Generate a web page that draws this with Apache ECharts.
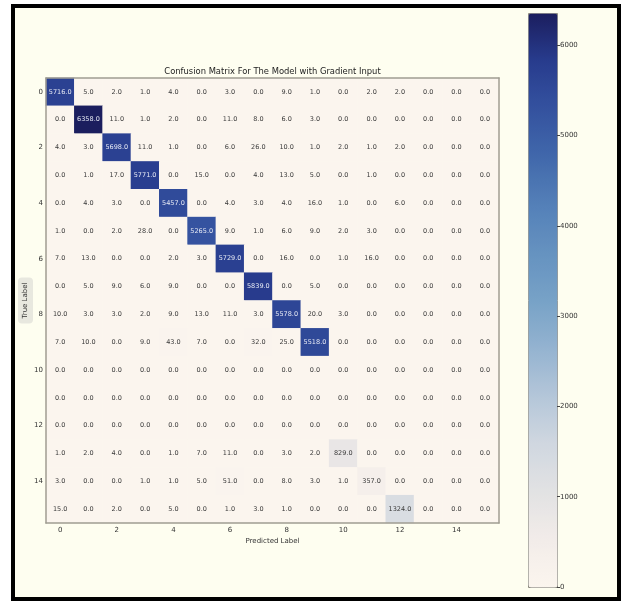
<!DOCTYPE html>
<html>
<head>
<meta charset="utf-8">
<script src="https://cdn.jsdelivr.net/npm/echarts@6/dist/echarts.min.js"></script>
<style>
html,body{margin:0;padding:0;background:#ffffff;}
#chart{width:625px;height:603px;}
</style>
</head>
<body>
<div id="chart"></div>
<script>
// ---- data ----
const predictedLabels = ['0','1','2','3','4','5','6','7','8','9','10','11','12','13','14','15'];
const trueLabels = ['0','1','2','3','4','5','6','7','8','9','10','11','12','13','14','15'];
const row0  = [5716, 5, 2, 1, 4, 0, 3, 0, 9, 1, 0, 2, 2, 0, 0, 0];
const row1  = [0, 6358, 11, 1, 2, 0, 11, 8, 6, 3, 0, 0, 0, 0, 0, 0];
const row2  = [4, 3, 5698, 11, 1, 0, 6, 26, 10, 1, 2, 1, 2, 0, 0, 0];
const row3  = [0, 1, 17, 5771, 0, 15, 0, 4, 13, 5, 0, 1, 0, 0, 0, 0];
const row4  = [0, 4, 3, 0, 5457, 0, 4, 3, 4, 16, 1, 0, 6, 0, 0, 0];
const row5  = [1, 0, 2, 28, 0, 5265, 9, 1, 6, 9, 2, 3, 0, 0, 0, 0];
const row6  = [7, 13, 0, 0, 2, 3, 5729, 0, 16, 0, 1, 16, 0, 0, 0, 0];
const row7  = [0, 5, 9, 6, 9, 0, 0, 5839, 0, 5, 0, 0, 0, 0, 0, 0];
const row8  = [10, 3, 3, 2, 9, 13, 11, 3, 5578, 20, 3, 0, 0, 0, 0, 0];
const row9  = [7, 10, 0, 9, 43, 7, 0, 32, 25, 5518, 0, 0, 0, 0, 0, 0];
const row10 = [0, 0, 0, 0, 0, 0, 0, 0, 0, 0, 0, 0, 0, 0, 0, 0];
const row11 = [0, 0, 0, 0, 0, 0, 0, 0, 0, 0, 0, 0, 0, 0, 0, 0];
const row12 = [0, 0, 0, 0, 0, 0, 0, 0, 0, 0, 0, 0, 0, 0, 0, 0];
const row13 = [1, 2, 4, 0, 1, 7, 11, 0, 3, 2, 829, 0, 0, 0, 0, 0];
const row14 = [3, 0, 0, 1, 1, 5, 51, 0, 8, 3, 1, 357, 0, 0, 0, 0];
const row15 = [15, 0, 2, 0, 5, 0, 1, 3, 1, 0, 0, 0, 1324, 0, 0, 0];
const colorbarTicks = [0, 1000, 2000, 3000, 4000, 5000, 6000];
const colorbarMin = 0;
const colorbarMax = 6358;

const rows = [row0,row1,row2,row3,row4,row5,row6,row7,row8,row9,row10,row11,row12,row13,row14,row15];
const cells = [];
rows.forEach((r, yi) => r.forEach((v, xi) => cells.push([xi, yi, v])));

const FONT = 'DejaVu Sans';
const cmap = ['#fbf5ee','#f2ece9','#e2e2e3','#d0d7e0','#b4c6d9','#94b3d0','#77a2c7',
              '#6592c0','#5480b8','#4168ab','#34529f','#283c8e','#1b1e5e'];
const spine = '#a09d92';

const chart = echarts.init(document.getElementById('chart'), null, {renderer:'canvas'});
chart.setOption({
  backgroundColor: '#ffffff',
  animation: false,
  textStyle: {fontFamily: FONT},
  graphic: [{
    type: 'rect', z: -10, silent: true,
    shape: {x: 13, y: 6, width: 606, height: 593},
    style: {fill: '#fefef0', stroke: '#000000', lineWidth: 4}
  }],
  title: {
    text: 'Confusion Matrix For The Model with Gradient Input',
    left: 272.5, top: 67.5, textAlign: 'center', padding: 0,
    textStyle: {fontFamily: FONT, fontSize: 8.4, fontWeight: 'normal', color: '#222'}
  },
  grid: [
    {left: 46, top: 78, width: 453, height: 445},
    {left: 528, top: 13, width: 29, height: 574}
  ],
  xAxis: [
    {
      type: 'category', data: predictedLabels, gridIndex: 0, position: 'bottom', z: 10,
      axisLine: {lineStyle: {color: spine, width: 1.5}},
      axisTick: {interval: 1, alignWithLabel: true, length: 4, lineStyle: {color: '#555'}},
      axisLabel: {interval: 1, fontSize: 7, color: '#333', margin: 4, fontFamily: FONT},
      splitLine: {show: false},
      name: 'Predicted Label', nameLocation: 'middle', nameGap: 15, nameMoveOverlap: false,
      nameTextStyle: {fontSize: 7, color: '#333', fontFamily: FONT}
    },
    {
      type: 'category', data: predictedLabels, gridIndex: 0, position: 'top', z: 10,
      axisLine: {lineStyle: {color: spine, width: 1.5}},
      axisTick: {show: false}, axisLabel: {show: false}
    },
    {type: 'category', data: ['cb'], gridIndex: 1, show: false}
  ],
  yAxis: [
    {
      type: 'category', data: trueLabels, gridIndex: 0, inverse: true, position: 'left', z: 10,
      axisLine: {lineStyle: {color: spine, width: 1.5}},
      axisTick: {interval: 1, alignWithLabel: true, length: 4, lineStyle: {color: '#555'}},
      axisLabel: {interval: 1, fontSize: 7, color: '#333', margin: 3, fontFamily: FONT},
      splitLine: {show: false},
      name: 'True Label', nameLocation: 'middle', nameRotate: 90, nameGap: 13, nameMoveOverlap: false,
      nameTextStyle: {fontSize: 7, color: '#333', fontFamily: FONT,
        backgroundColor: '#e8e8df', borderRadius: 4, padding: [4, 5, 4, 5]}
    },
    {
      type: 'category', data: trueLabels, gridIndex: 0, inverse: true, position: 'right', z: 10,
      axisLine: {lineStyle: {color: spine, width: 1.5}},
      axisTick: {show: false}, axisLabel: {show: false}
    },
    {
      type: 'value', gridIndex: 1, min: colorbarMin, max: colorbarMax, position: 'right', z: 10,
      axisLine: {show: false, onZero: false},
      axisTick: {show: true, length: 3, customValues: colorbarTicks, lineStyle: {color: '#444'}},
      axisLabel: {fontSize: 7, color: '#333', margin: 3, customValues: colorbarTicks,
        fontFamily: FONT, formatter: v => String(v)},
      splitLine: {show: false}
    }
  ],
  visualMap: {
    type: 'continuous', seriesIndex: 0, min: colorbarMin, max: colorbarMax,
    orient: 'vertical', left: 528, top: 13, itemWidth: 29, itemHeight: 574,
    calculable: false, showLabel: false, text: null, padding: 0,
    borderColor: '#8c8a80', borderWidth: 1, hoverLink: false,
    inRange: {color: cmap}
  },
  series: [{
    type: 'heatmap', xAxisIndex: 0, yAxisIndex: 0,
    data: cells,
    label: {
      show: true, fontSize: 6.5, fontFamily: FONT,
      formatter: p => (p.value[2] > colorbarMax / 2 ? '{w|' : '{d|') + p.value[2].toFixed(1) + '}',
      rich: {
        w: {color: '#e6e9f4', fontSize: 6.5, fontFamily: FONT},
        d: {color: '#3a3a3a', fontSize: 6.5, fontFamily: FONT}
      }
    },
    itemStyle: {borderWidth: 0},
    emphasis: {disabled: true}
  }]
});
</script>
</body>
</html>
